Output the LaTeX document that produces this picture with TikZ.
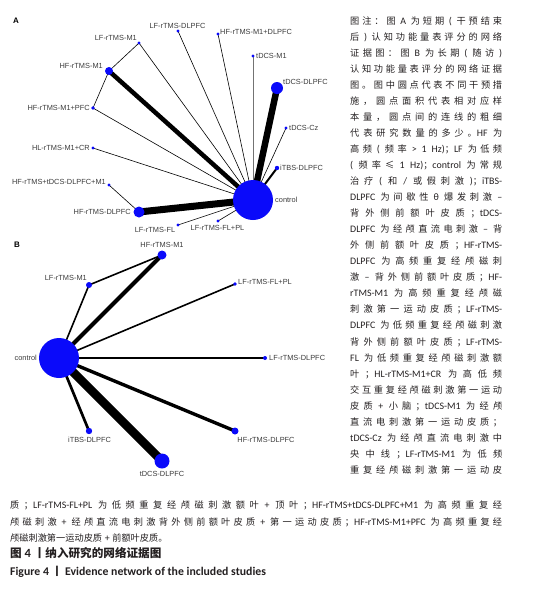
\documentclass[tikz,border=0pt]{standalone}
\usepackage{fontspec}
\setmainfont{Liberation Sans}
\newfontfamily\latfont{Carlito}[Scale=1.08]
\newfontfamily\cjkfont{Noto Sans CJK SC}
\usetikzlibrary{positioning}
\definecolor{nodeblue}{RGB}{10,10,250}
\definecolor{labelgray}{RGB}{60,60,60}
\definecolor{captxt}{RGB}{35,31,32}
\newXeTeXintercharclass\cjkcls
\newcount\cjkcnt
\cjkcnt="3000 \loop \XeTeXcharclass\cjkcnt=\cjkcls \advance\cjkcnt 1 \ifnum\cjkcnt<"3040 \repeat
\cjkcnt="4E00 \loop \XeTeXcharclass\cjkcnt=\cjkcls \advance\cjkcnt 1 \ifnum\cjkcnt<"A000 \repeat
\cjkcnt="FF00 \loop \XeTeXcharclass\cjkcnt=\cjkcls \advance\cjkcnt 1 \ifnum\cjkcnt<"FFF0 \repeat
\XeTeXcharclass"2264=\cjkcls
\XeTeXinterchartoks 0 \cjkcls = {\cjkfont}
\XeTeXinterchartoks 4095 \cjkcls = {\cjkfont}
\XeTeXinterchartoks \cjkcls 0 = {\latfont}
\XeTeXinterchartoks \cjkcls 4095 = {\latfont}
\XeTeXinterchartoks \cjkcls \cjkcls = {\hskip 0pt plus 1pt\relax}
\pgfdeclarelayer{bg}
\pgfsetlayers{bg,main}
\tikzset{
  dot/.style={circle, fill=nodeblue, draw=none, inner sep=0pt, minimum size=#1},
  lbl/.style={font=\fontsize{7.4}{8.5}\selectfont, text=labelgray, inner sep=0pt},
  lnk/.style={draw=black, line width=#1},
  panel/.style={font=\fontsize{8}{9}\selectfont\bfseries, inner sep=0pt},
  capline/.style={anchor=base west, inner sep=0pt, text=captxt, font=\fontsize{9.2}{11}\latfont},
}
\newcommand{\capsetup}{\XeTeXinterchartokenstate=1 \spaceskip=2.6pt plus 0.7pt\relax}
\newcommand{\colline}[2]{\node[capline] at (350,#1) {\capsetup\hbox to 152pt{#2}};}
\newcommand{\wideline}[2]{\node[capline] at (10,#1) {\capsetup\hbox to 492pt{#2}};}
\begin{document}
\begin{tikzpicture}[x=1pt,y=-1pt]
\useasboundingbox (0,0) rectangle (545,590);
% ---------------- Panel A ----------------
\node[panel] (labA) at (16,21) {A};
\node[dot=40pt] (aC) at (253,200) {};
\node[dot=8pt] (aHM1) at (109,71) {};
\node[dot=3.2pt] (aLM1) at (139,43) {};
\node[dot=3.2pt] (aLD) at (178,31) {};
\node[dot=3.2pt] (aHMD) at (218,34) {};
\node[dot=3.2pt] (aTM1) at (253,56) {};
\node[dot=12pt] (aTD) at (277,88) {};
\node[dot=3.2pt] (aTCz) at (286,128) {};
\node[dot=4.4pt] (aIT) at (277,168) {};
\node[dot=3.6pt] (aHMP) at (93,108) {};
\node[dot=3.2pt] (aHL) at (93,148) {};
\node[dot=3.2pt] (aHTD) at (109,185) {};
\node[dot=11pt] (aHD) at (139,212) {};
\node[dot=3.2pt] (aLFL) at (178,225) {};
\node[dot=3.2pt] (aLFP) at (218,221) {};
\begin{pgfonlayer}{bg}
\draw[lnk=7] (aC.center) -- (aHD.center);
\draw[lnk=6.5] (aC.center) -- (aTD.center);
\draw[lnk=4.5] (aC.center) -- (aHM1.center);
\draw[lnk=2] (aC.center) -- (aIT.center);
\draw[lnk=0.6] (aC.center) -- (aLM1.center);
\draw[lnk=0.6] (aC.center) -- (aLD.center);
\draw[lnk=0.6] (aC.center) -- (aHMD.center);
\draw[lnk=0.6, draw=black!55] (aC.center) -- (aTM1.center);
\draw[lnk=0.6] (aC.center) -- (aTCz.center);
\draw[lnk=0.6] (aC.center) -- (aHMP.center);
\draw[lnk=0.6] (aC.center) -- (aHL.center);
\draw[lnk=0.6] (aC.center) -- (aLFL.center);
\draw[lnk=0.6] (aC.center) -- (aLFP.center);
\draw[lnk=0.6] (aHM1.center) -- (aLM1.center);
\draw[lnk=0.6] (aHM1.center) -- (aHMP.center);
\draw[lnk=0.6] (aHTD.center) -- (aHD.center);
\end{pgfonlayer}
\node[lbl] (tLD) at (177.5,26) {LF-rTMS-DLPFC};
\node[lbl, anchor=west] (tHMD) at (220,32) {HF-rTMS-M1+DLPFC};
\node[lbl, anchor=east] (tLM1) at (137,38) {LF-rTMS-M1};
\node[lbl, anchor=east] (tHM1) at (103,66) {HF-rTMS-M1};
\node[lbl, anchor=west] (tTM1) at (256,56) {tDCS-M1};
\node[lbl, anchor=west] (tTD) at (283,82) {tDCS-DLPFC};
\node[lbl, anchor=west] (tTCz) at (289,128) {tDCS-Cz};
\node[lbl, anchor=west] (tIT) at (280,168) {iTBS-DLPFC};
\node[lbl, anchor=west] (tC) at (275,200) {control};
\node[lbl, anchor=east] (tHMP) at (90,108) {HF-rTMS-M1+PFC};
\node[lbl, anchor=east] (tHL) at (90,148) {HL-rTMS-M1+CR};
\node[lbl, anchor=east] (tHTD) at (106,182) {HF-rTMS+tDCS-DLPFC+M1};
\node[lbl, anchor=east] (tHD) at (131,212) {HF-rTMS-DLPFC};
\node[lbl] (tLFL) at (155,230) {LF-rTMS-FL};
\node[lbl] (tLFP) at (217.5,228) {LF-rTMS-FL+PL};
% ---------------- Panel B ----------------
\node[panel] (labB) at (17,245) {B};
\node[dot=40pt] (bC) at (59,358) {};
\node[dot=9pt] (bHM1) at (162,255) {};
\node[dot=6pt] (bLM1) at (89,285) {};
\node[dot=3.6pt] (bLFP) at (235,284) {};
\node[dot=4pt] (bLD) at (265,358) {};
\node[dot=7pt] (bHD) at (235,431) {};
\node[dot=15pt] (bTD) at (162,461) {};
\node[dot=6.4pt] (bIT) at (89,431) {};
\begin{pgfonlayer}{bg}
\draw[lnk=8.5] (bC.center) -- (bTD.center);
\draw[lnk=4] (bC.center) -- (bHM1.center);
\draw[lnk=3.4] (bC.center) -- (bHD.center);
\draw[lnk=2.7] (bC.center) -- (bIT.center);
\draw[lnk=1.6] (bC.center) -- (bLM1.center);
\draw[lnk=1.6] (bLM1.center) -- (bHM1.center);
\draw[lnk=1.6] (bC.center) -- (bLFP.center);
\draw[lnk=1.6] (bC.center) -- (bLD.center);
\end{pgfonlayer}
\node[lbl] (uHM1) at (162,245) {HF-rTMS-M1};
\node[lbl, anchor=east] (uLM1) at (87,278) {LF-rTMS-M1};
\node[lbl, anchor=west] (uLFP) at (238,282) {LF-rTMS-FL+PL};
\node[lbl, anchor=west] (uLD) at (269,358) {LF-rTMS-DLPFC};
\node[lbl, anchor=east] (uC) at (37,358) {control};
\node[lbl] (uIT) at (89.5,440) {iTBS-DLPFC};
\node[lbl] (uTD) at (162,474) {tDCS-DLPFC};
\node[lbl] (uHD) at (266,440) {HF-rTMS-DLPFC};
% ---------------- Caption ----------------
\colline{24.0}{图注：图 A 为短期 ( 干预结束}
\colline{40.05}{后 ) 认知功能量表评分的网络}
\colline{56.1}{证据图：图 B 为长期 ( 随访 )}
\colline{72.15}{认知功能量表评分的网络证据}
\colline{88.2}{图。图中圆点代表不同干预措}
\colline{104.25}{施，圆点面积代表相对应样}
\colline{120.3}{本量，圆点间的连线的粗细}
\colline{136.35}{代表研究数量的多少。HF 为}
\colline{152.4}{高频 ( 频率 > 1 Hz)；LF 为低频}
\colline{168.45}{( 频率≤ 1 Hz)；control 为常规}
\colline{184.5}{治疗 ( 和 / 或假刺激 )；iTBS-}
\colline{200.55}{DLPFC 为间歇性 θ 爆发刺激 –}
\colline{216.6}{背外侧前额叶皮质；tDCS-}
\colline{232.65}{DLPFC 为经颅直流电刺激 – 背}
\colline{248.7}{外侧前额叶皮质；HF-rTMS-}
\colline{264.75}{DLPFC 为高频重复经颅磁刺}
\colline{280.8}{激 – 背外侧前额叶皮质；HF-}
\colline{296.85}{rTMS-M1 为高频重复经颅磁}
\colline{312.9}{刺激第一运动皮质；LF-rTMS-}
\colline{328.95}{DLPFC 为低频重复经颅磁刺激}
\colline{345.0}{背外侧前额叶皮质；LF-rTMS-}
\colline{361.05}{FL 为低频重复经颅磁刺激额}
\colline{377.1}{叶；HL-rTMS-M1+CR 为高低频}
\colline{393.15}{交互重复经颅磁刺激第一运动}
\colline{409.2}{皮质 + 小脑；tDCS-M1 为经颅}
\colline{425.25}{直流电刺激第一运动皮质；}
\colline{441.3}{tDCS-Cz 为经颅直流电刺激中}
\colline{457.35}{央中线；LF-rTMS-M1 为低频}
\colline{473.4}{重复经颅磁刺激第一运动皮}
\wideline{508.3}{质；LF-rTMS-FL+PL 为低频重复经颅磁刺激额叶 + 顶叶；HF-rTMS+tDCS-DLPFC+M1 为高频重复经}
\wideline{525.3}{颅磁刺激 + 经颅直流电刺激背外侧前额叶皮质 + 第一运动皮质；HF-rTMS-M1+PFC 为高频重复经}
\node[capline] (cap3) at (10,541.3) {\capsetup 颅磁刺激第一运动皮质 + 前额叶皮质。};
\node[capline, font=\fontsize{11.6}{12}\latfont\bfseries] (cap4) at (10,557.5) {\XeTeXinterchartokenstate=1 图 4 丨纳入研究的网络证据图};
\node[capline, font=\fontsize{10.9}{12}\latfont\bfseries] (cap5) at (10,575) {\XeTeXinterchartokenstate=1 Figure 4 丨 Evidence network of the included studies};
\end{tikzpicture}
\end{document}
